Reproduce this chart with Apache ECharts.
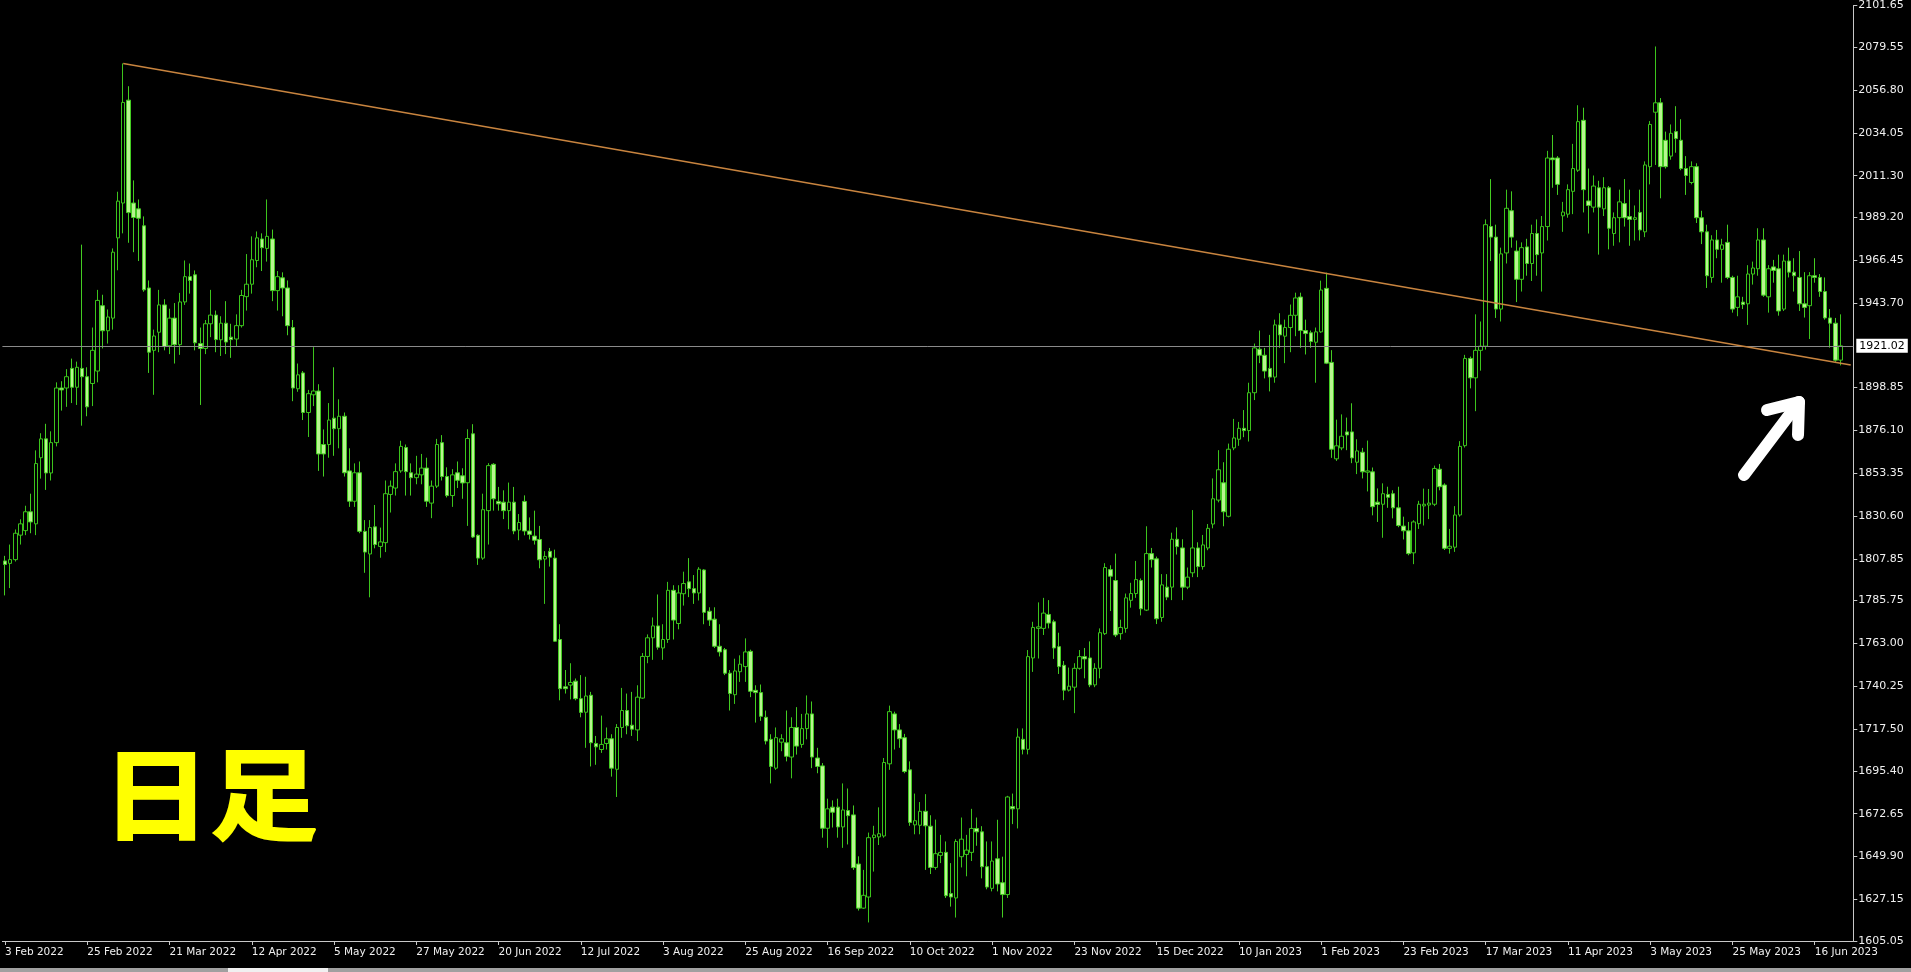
<!DOCTYPE html>
<html><head><meta charset="utf-8">
<script src="https://cdn.jsdelivr.net/npm/echarts@6/dist/echarts.min.js"></script>
<style>html,body{margin:0;padding:0;background:#000;overflow:hidden}#c{width:1911px;height:972px;}</style>
</head><body><div id="c"></div>
<script>
// ---- calendar (MT4 daily bars: weekdays minus broker holidays; 2 empty shift bars at the end)
const firstDay = '2022-02-03';
const lastDay = '2023-06-27';
const holidays = ['2022-04-15', '2022-12-26', '2023-01-02', '2023-04-07'];
const monthNames = ['Jan','Feb','Mar','Apr','May','Jun','Jul','Aug','Sep','Oct','Nov','Dec'];
function buildCategories() {
  const out = [];
  const d = new Date(firstDay + 'T00:00:00Z');
  const end = new Date(lastDay + 'T00:00:00Z');
  while (d <= end) {
    const iso = d.toISOString().slice(0, 10);
    const wd = d.getUTCDay();
    if (wd !== 0 && wd !== 6 && holidays.indexOf(iso) < 0) {
      out.push(d.getUTCDate() + ' ' + monthNames[d.getUTCMonth()] + ' ' + d.getUTCFullYear());
    }
    d.setUTCDate(d.getUTCDate() + 1);
  }
  return out;
}
const categories = buildCategories();

// ---- XAUUSD daily candles
const opens = [
1806.8,1805.5,1807.5,1820.5,1822.9,1832.9,1826.5,1861.6,1871.6,1853.5,1869.6,1898.6,1898.6,1909.0,1899.0,1909.0,1904.6,1901.0,1907.6,1942.3,
1929.0,1935.7,1978.3,1996.8,2051.4,1996.8,1993.7,1984.7,1951.7,1918.6,1928.2,1942.7,1921.0,1935.7,1921.6,1944.3,1957.7,1958.7,1922.2,1919.6,
1932.7,1937.3,1924.2,1933.0,1925.6,1924.6,1931.7,1947.1,1953.7,1966.3,1977.7,1972.7,1977.7,1950.3,1957.1,1951.7,1930.7,1898.2,1906.6,1885.6,
1895.0,1897.0,1868.6,1868.6,1882.6,1877.0,1883.6,1854.6,1838.5,1853.6,1822.5,1810.5,1824.9,1814.5,1816.5,1842.1,1845.5,1854.6,1867.0,1853.6,
1851.0,1852.5,1856.1,1837.5,1846.5,1869.6,1851.6,1841.5,1853.6,1852.0,1848.3,1874.3,1820.4,1808.3,1833.5,1858.1,1838.4,1838.0,1833.5,1838.0,
1823.2,1838.4,1822.7,1820.0,1818.2,1807.8,1811.9,1808.3,1765.1,1740.0,1740.9,1743.0,1733.7,1726.5,1735.5,1709.9,1706.7,1709.9,1712.4,1696.2,
1718.4,1727.4,1719.6,1717.1,1734.0,1756.1,1766.0,1772.3,1760.6,1765.1,1791.2,1773.6,1789.4,1795.7,1792.1,1789.8,1802.0,1780.1,1775.9,1761.5,
1759.7,1747.2,1735.8,1748.0,1750.7,1758.8,1738.1,1736.9,1723.8,1712.1,1696.8,1710.6,1710.3,1702.7,1718.4,1709.4,1717.8,1725.6,1702.2,1698.0,
1664.9,1676.1,1676.1,1665.6,1674.3,1672.0,1645.9,1622.5,1628.4,1659.9,1660.3,1660.8,1699.1,1725.6,1717.1,1713.0,1695.9,1666.7,1666.5,1673.9,
1666.0,1644.1,1650.5,1652.1,1630.2,1627.9,1649.8,1651.0,1652.1,1664.8,1663.0,1644.5,1633.0,1648.7,1636.0,1629.7,1676.4,1675.2,1712.1,1706.8,
1755.3,1771.0,1771.0,1778.4,1774.5,1761.3,1751.4,1738.2,1739.8,1749.8,1756.0,1755.3,1741.0,1749.8,1768.2,1802.2,1796.4,1768.2,1771.0,1785.9,
1789.5,1796.4,1780.7,1810.7,1807.9,1776.8,1792.9,1792.9,1818.3,1813.7,1792.9,1800.5,1813.7,1803.8,1813.7,1826.4,1839.1,1848.3,1830.5,1866.8,
1871.4,1877.2,1876.0,1896.1,1919.2,1916.0,1909.0,1904.4,1932.1,1926.1,1930.7,1937.2,1946.9,1929.1,1927.9,1922.9,1928.4,1951.5,1912.2,1861.0,
1866.8,1875.3,1875.3,1859.2,1864.5,1853.9,1854.1,1838.0,1836.9,1842.1,1842.5,1835.0,1825.3,1822.8,1811.1,1826.6,1836.0,1836.5,1836.9,1855.5,
1847.1,1813.5,1814.1,1831.2,1868.0,1914.3,1904.0,1918.6,1920.8,1984.3,1978.7,1940.5,1970.3,1992.7,1971.3,1956.3,1973.5,1964.7,1980.6,1970.3,
1984.3,2020.7,2020.7,1990.0,1990.9,2003.0,2014.2,2040.7,1997.9,1994.6,2004.9,1993.7,2004.9,1980.6,1989.0,1996.5,1989.6,1988.1,1991.8,1981.5,
2016.1,2045.0,2050.0,2030.1,2021.7,2034.7,2030.1,2015.1,2007.7,2016.1,1989.0,1981.5,1957.3,1977.2,1972.2,1975.9,1957.3,1941.4,1944.2,1943.3,
1959.1,1961.9,1977.2,1947.0,1962.9,1961.9,1940.5,1966.0,1960.1,1957.3,1943.3,1942.3,1958.2,1957.3,1949.8,1935.8,1933.0,1913.4
];
const closes = [
1804.9,1807.5,1821.5,1826.5,1832.9,1827.5,1858.5,1871.6,1853.5,1869.6,1898.6,1897.6,1904.6,1899.0,1909.6,1904.6,1888.6,1918.6,1945.1,1929.0,
1936.3,1970.7,1997.8,2050.2,1991.7,1989.1,1988.7,1950.7,1917.6,1926.2,1942.7,1920.6,1935.7,1921.6,1944.3,1957.7,1955.7,1922.6,1919.6,1932.7,
1937.3,1924.3,1933.0,1923.0,1924.3,1931.7,1947.7,1953.7,1966.7,1978.3,1973.1,1979.1,1950.3,1957.7,1951.7,1931.7,1898.6,1905.6,1885.6,1895.6,
1897.0,1863.6,1863.6,1881.6,1877.0,1883.6,1853.6,1838.5,1853.6,1822.5,1811.5,1824.5,1815.5,1816.9,1842.5,1846.5,1854.2,1867.6,1854.2,1851.0,
1852.9,1856.1,1838.5,1846.5,1868.6,1851.6,1841.5,1852.5,1849.6,1848.2,1871.8,1819.5,1808.3,1834.0,1857.4,1839.8,1837.1,1833.5,1838.0,1822.7,
1827.2,1822.7,1820.9,1817.8,1807.4,1809.2,1808.8,1764.2,1739.0,1739.0,1742.3,1733.7,1726.4,1735.1,1710.3,1708.1,1709.4,1712.4,1696.8,1718.4,
1727.4,1719.3,1717.5,1734.5,1756.1,1766.0,1772.3,1761.0,1765.1,1791.2,1775.4,1789.8,1794.8,1792.1,1789.8,1802.4,1779.5,1775.4,1761.5,1758.5,
1747.2,1736.4,1748.4,1752.0,1758.5,1737.6,1736.9,1724.3,1711.2,1697.7,1713.0,1712.4,1703.1,1718.4,1708.5,1717.8,1725.6,1702.7,1697.7,1664.9,
1675.2,1673.4,1665.6,1674.6,1671.6,1644.0,1622.5,1629.3,1659.9,1661.3,1662.0,1699.8,1726.8,1717.1,1712.4,1695.0,1668.0,1668.9,1673.9,1666.2,
1644.1,1651.4,1652.1,1629.1,1628.4,1657.9,1659.1,1653.3,1664.8,1663.0,1644.5,1633.7,1647.5,1635.3,1629.7,1681.5,1675.2,1713.3,1706.8,1756.0,
1771.5,1771.8,1779.1,1773.8,1760.6,1750.7,1738.2,1740.3,1749.8,1756.0,1754.8,1741.0,1749.8,1768.7,1803.3,1798.7,1767.5,1771.5,1787.2,1789.5,
1796.9,1781.4,1810.7,1807.5,1776.1,1794.1,1787.6,1818.3,1814.4,1792.9,1798.2,1813.7,1803.8,1815.3,1824.1,1839.8,1855.2,1832.9,1866.1,1872.1,
1877.2,1876.0,1896.1,1919.9,1916.0,1907.6,1904.4,1932.1,1926.8,1930.7,1937.2,1946.4,1929.1,1927.5,1923.3,1928.4,1950.6,1911.8,1866.1,1867.9,
1873.0,1873.7,1861.5,1865.2,1854.1,1854.6,1835.6,1836.8,1842.5,1840.6,1835.0,1825.6,1822.8,1810.7,1827.5,1836.9,1836.9,1837.5,1855.9,1846.2,
1813.5,1814.6,1831.2,1867.6,1914.3,1904.0,1918.6,1920.8,1985.3,1978.7,1940.5,1969.8,1994.0,1978.7,1956.3,1973.1,1964.7,1980.6,1969.4,1984.3,
2020.7,2019.8,2006.7,1992.0,2003.9,2015.1,2040.0,2003.9,1995.5,2005.8,1994.6,2004.9,1983.4,1989.0,1997.4,1989.0,1988.1,1989.0,1982.5,2017.0,
2038.5,2050.0,2016.1,2016.1,2033.8,2031.0,2015.1,2011.4,2016.1,1989.0,1981.5,1958.2,1977.2,1972.2,1974.6,1957.3,1940.5,1947.0,1942.9,1959.1,
1962.3,1977.2,1947.9,1961.9,1961.0,1939.5,1966.0,1960.1,1958.2,1943.3,1941.4,1958.2,1957.3,1949.8,1935.8,1933.0,1913.4,1921.0
];
const lows = [
1788.5,1792.4,1806.5,1815.5,1820.5,1821.5,1820.5,1850.5,1844.5,1849.5,1867.6,1886.6,1888.6,1890.6,1889.6,1878.6,1883.6,1889.0,1901.6,1919.6,
1922.2,1929.6,1961.1,1980.7,1975.7,1970.7,1966.0,1949.7,1906.6,1895.0,1917.6,1918.6,1916.6,1911.6,1916.2,1942.7,1948.7,1918.6,1889.6,1916.6,
1925.6,1917.6,1915.6,1916.6,1914.6,1920.6,1930.7,1939.7,1948.7,1962.7,1960.7,1965.7,1944.7,1939.7,1936.7,1926.6,1891.6,1896.6,1881.6,1872.6,
1889.0,1854.6,1851.6,1861.6,1862.6,1866.6,1851.6,1835.5,1835.5,1821.5,1800.5,1787.5,1813.5,1808.5,1811.5,1832.5,1841.5,1853.6,1841.5,1841.5,
1847.5,1847.5,1835.5,1829.5,1845.5,1849.5,1840.5,1835.5,1845.5,1839.8,1825.4,1819.0,1804.7,1807.4,1815.5,1833.5,1833.5,1829.0,1823.6,1821.0,
1817.8,1820.4,1818.2,1815.5,1802.9,1784.0,1803.8,1763.9,1732.8,1736.4,1733.3,1732.8,1723.8,1707.6,1697.7,1698.6,1704.9,1706.7,1692.3,1681.5,
1712.9,1714.8,1713.9,1711.2,1733.6,1752.5,1754.3,1759.7,1754.3,1763.3,1765.1,1770.5,1783.1,1787.6,1784.0,1785.8,1773.2,1772.3,1760.6,1756.1,
1746.2,1727.4,1730.9,1742.6,1742.6,1734.5,1721.0,1721.9,1709.4,1688.7,1695.9,1705.8,1700.4,1691.4,1704.0,1707.6,1712.1,1696.8,1694.1,1659.9,
1654.5,1665.3,1659.9,1654.5,1656.3,1642.8,1621.2,1622.1,1614.9,1641.9,1656.0,1659.9,1695.9,1706.7,1707.6,1694.1,1666.2,1661.7,1661.7,1642.8,
1640.6,1642.9,1646.4,1627.9,1623.3,1617.5,1644.1,1639.4,1647.5,1655.6,1638.3,1632.5,1631.4,1631.4,1617.5,1627.9,1667.1,1664.8,1704.1,1704.1,
1747.9,1755.0,1767.5,1771.0,1754.8,1746.8,1732.9,1737.5,1726.0,1749.1,1744.5,1739.8,1739.8,1744.5,1767.5,1780.2,1766.4,1765.0,1768.7,1782.0,
1787.2,1777.9,1780.2,1803.3,1773.3,1774.5,1786.0,1786.0,1810.2,1786.0,1791.8,1798.2,1798.2,1802.2,1812.5,1824.1,1837.9,1825.2,1829.9,1865.6,
1867.9,1872.5,1870.2,1892.2,1911.8,1903.7,1896.8,1901.4,1919.9,1911.8,1917.6,1926.1,1919.9,1916.4,1919.9,1901.4,1927.9,1911.3,1861.5,1859.9,
1865.6,1865.6,1858.7,1852.9,1850.6,1843.7,1831.0,1827.5,1819.1,1835.0,1829.4,1824.7,1818.2,1809.8,1805.1,1823.8,1825.6,1829.0,1835.9,1844.3,
1812.6,1810.7,1811.6,1830.3,1867.0,1898.4,1886.3,1907.8,1919.0,1966.0,1935.8,1933.9,1964.7,1973.1,1944.2,1949.8,1958.2,1955.4,1958.2,1949.8,
1976.9,2004.9,2001.1,1981.5,1989.0,1990.9,2013.3,1991.8,1980.6,1991.8,1969.4,1989.9,1972.2,1974.1,1975.9,1984.3,1974.1,1976.9,1976.9,1978.7,
2006.7,2017.0,1999.3,2015.1,2019.8,2023.5,2014.2,2001.1,2006.7,1986.2,1975.0,1951.7,1954.5,1967.5,1954.5,1956.4,1938.6,1936.7,1940.5,1932.1,
1953.5,1958.2,1947.0,1938.6,1954.5,1937.0,1939.5,1957.3,1949.8,1939.5,1936.0,1924.6,1954.5,1947.0,1934.9,1920.0,1912.5,1910.6
];
const highs = [
1809.5,1815.5,1823.5,1828.9,1836.1,1842.5,1865.5,1874.6,1879.6,1875.6,1901.6,1902.2,1908.6,1914.2,1912.6,1974.7,1909.6,1930.7,1950.7,1948.1,
1940.3,1972.7,2002.8,2070.9,2058.8,2008.8,1998.7,1989.7,1955.7,1929.6,1950.7,1945.7,1940.7,1943.7,1949.1,1966.3,1964.7,1961.0,1930.7,1934.7,
1950.7,1939.7,1936.7,1944.7,1932.7,1937.7,1950.7,1969.7,1979.1,1981.7,1980.7,1998.7,1982.7,1960.7,1960.0,1955.7,1934.7,1911.6,1907.6,1897.6,
1920.3,1900.6,1876.6,1890.6,1909.6,1892.6,1885.6,1866.6,1858.6,1859.6,1828.5,1828.5,1836.5,1824.5,1849.5,1849.5,1858.6,1870.6,1868.6,1858.6,
1862.6,1863.6,1861.6,1849.5,1871.6,1873.6,1856.5,1855.5,1859.6,1856.0,1876.7,1879.4,1820.9,1842.5,1858.7,1858.7,1846.1,1844.3,1848.4,1846.1,
1831.7,1841.6,1829.9,1833.5,1825.4,1812.0,1813.7,1812.8,1773.2,1748.9,1752.5,1744.4,1746.2,1745.3,1737.3,1713.9,1724.7,1718.4,1714.8,1720.2,
1739.4,1736.4,1737.3,1740.8,1757.9,1767.8,1776.8,1789.0,1773.2,1795.7,1793.9,1793.9,1801.1,1808.3,1799.3,1803.5,1802.4,1782.2,1782.2,1773.2,
1760.6,1748.9,1754.9,1756.7,1765.7,1759.7,1740.8,1741.2,1727.4,1714.8,1718.4,1714.8,1727.4,1723.8,1729.2,1725.6,1735.4,1732.2,1707.6,1699.5,
1680.6,1679.7,1680.6,1688.7,1686.0,1677.0,1650.0,1642.8,1662.6,1666.2,1676.0,1702.2,1730.0,1726.8,1720.2,1715.0,1700.4,1683.3,1678.8,1683.0,
1671.8,1669.5,1661.4,1657.9,1646.4,1659.1,1670.6,1661.4,1675.2,1670.6,1666.0,1657.9,1657.9,1669.4,1649.8,1682.1,1683.3,1717.9,1717.9,1759.5,
1774.5,1784.8,1787.2,1786.0,1775.6,1768.7,1753.7,1750.2,1752.5,1759.5,1760.6,1764.1,1752.5,1771.0,1805.6,1804.5,1810.7,1775.6,1789.5,1795.2,
1806.8,1797.5,1825.2,1813.7,1809.1,1799.8,1799.8,1821.8,1824.6,1818.3,1803.3,1833.8,1816.7,1820.6,1826.4,1850.6,1865.6,1859.2,1869.1,1882.2,
1880.6,1886.9,1901.4,1922.2,1929.1,1919.9,1926.8,1934.9,1938.3,1934.9,1942.9,1949.2,1949.2,1934.9,1929.1,1930.7,1955.6,1959.8,1918.7,1881.8,
1884.6,1882.9,1890.5,1871.4,1866.8,1870.7,1856.4,1845.3,1848.0,1846.2,1844.3,1846.2,1830.3,1827.5,1828.4,1838.7,1845.2,1845.0,1857.4,1858.3,
1848.0,1823.8,1835.9,1870.4,1916.2,1915.3,1937.7,1933.9,1988.1,2009.5,1985.3,1973.1,2003.9,2003.0,1976.9,1975.9,1977.8,1985.3,1988.1,1989.9,
2024.5,2032.9,2021.7,1997.4,2006.7,2028.2,2048.7,2047.4,2015.1,2011.4,2008.6,2010.5,2005.8,1991.8,2003.9,2009.5,2003.9,1995.5,2003.9,2018.9,
2040.3,2079.9,2052.5,2034.7,2038.5,2048.2,2041.3,2021.7,2018.9,2017.9,1992.7,1985.3,1979.7,1982.5,1977.8,1985.3,1958.2,1958.2,1947.0,1963.8,
1965.7,1983.4,1983.4,1963.8,1966.6,1969.4,1969.4,1973.1,1967.5,1971.3,1960.1,1960.1,1967.5,1959.1,1957.3,1940.5,1935.8,1937.7
];
const priceLabels = [2101.65,2079.55,2056.80,2034.05,2011.30,1989.20,1966.45,1943.70,1898.85,1876.10,1853.35,1830.60,
  1807.85,1785.75,1763.00,1740.25,1717.50,1695.40,1672.65,1649.90,1627.15,1605.05];
const bidPrice = 1921.02;
const trendLine = [['8 Mar 2022', 2070.9], ['27 Jun 2023', 1910.8]];
const labelEvery = 16;

const candles = opens.map((o, i) => [o, closes[i], lows[i], highs[i]]);
const nBars = candles.length;
const fg = '#f0f0f0';
const axisCol = '#c8c8c8';

const chart = echarts.init(document.getElementById('c'), null, {renderer: 'canvas'});
chart.setOption({
  backgroundColor: '#000000',
  animation: false,
  grid: {left: 2.4, width: 1850.9, top: 4.3, height: 936.7, containLabel: false},
  xAxis: {
    type: 'category', data: categories, boundaryGap: true,
    axisLine: {show: true, lineStyle: {color: axisCol, width: 1}},
    axisTick: {show: true, alignWithLabel: true, length: 4, lineStyle: {color: axisCol},
      interval: (i) => i % labelEvery === 0 && i < nBars},
    axisLabel: {show: true, color: fg, fontFamily: 'DejaVu Sans', fontSize: 10.5, align: 'left', margin: 6,
      interval: (i) => i % labelEvery === 0 && i < nBars},
    splitLine: {show: false}
  },
  yAxis: {
    type: 'value', position: 'right', min: priceLabels[priceLabels.length - 1], max: priceLabels[0], scale: true,
    axisLine: {show: true, lineStyle: {color: axisCol, width: 1}},
    axisTick: {show: true, length: 4, lineStyle: {color: axisCol}, customValues: priceLabels},
    axisLabel: {show: true, color: fg, fontFamily: 'DejaVu Sans', fontSize: 11, margin: 5,
      customValues: priceLabels, formatter: (v) => v.toFixed(2)},
    splitLine: {show: false}
  },
  series: [
    {
      type: 'candlestick', data: candles, barWidth: 4,
      itemStyle: {color: '#000000', color0: '#b8f590', borderColor: '#3cc41c', borderColor0: '#44cc22', borderWidth: 1},
      markLine: {
        silent: true, symbol: ['none', 'none'],
        lineStyle: {color: '#8a8a8a', width: 1, type: 'solid'},
        label: {show: true, position: 'end', distance: 3, formatter: bidPrice.toFixed(2), color: '#000000',
          backgroundColor: '#ffffff', padding: [2, 3, 1, 3], fontFamily: 'DejaVu Sans', fontSize: 11},
        data: [{yAxis: bidPrice}]
      }
    },
    {
      type: 'line', data: trendLine, symbol: 'none', silent: true, z: 5,
      lineStyle: {color: '#c8843f', width: 1.5}
    }
  ],
  graphic: [
    {type: 'text', x: 102, y: 794, scaleX: 1.08, z: 10,
      style: {text: '日足', fill: '#ffff00', stroke: '#ffff00', lineWidth: 2, lineJoin: 'round',
        font: 'bold 100px "Noto Sans CJK JP"', textAlign: 'left', textVerticalAlign: 'middle'}},
    {type: 'polyline', z: 10, shape: {points: [[1744, 475], [1799, 402]]},
      style: {stroke: '#ffffff', lineWidth: 12, lineCap: 'round', fill: null}},
    {type: 'polyline', z: 10, shape: {points: [[1767, 410], [1799, 402], [1798, 435]]},
      style: {stroke: '#ffffff', lineWidth: 12, lineCap: 'round', lineJoin: 'round', fill: null}},
    {type: 'rect', z: 10, shape: {x: 0, y: 968, width: 1911, height: 4}, style: {fill: '#a0a0a0'}},
    {type: 'rect', z: 11, shape: {x: 228, y: 968, width: 100, height: 4}, style: {fill: '#f0f0f0'}}
  ]
});
</script></body></html>
